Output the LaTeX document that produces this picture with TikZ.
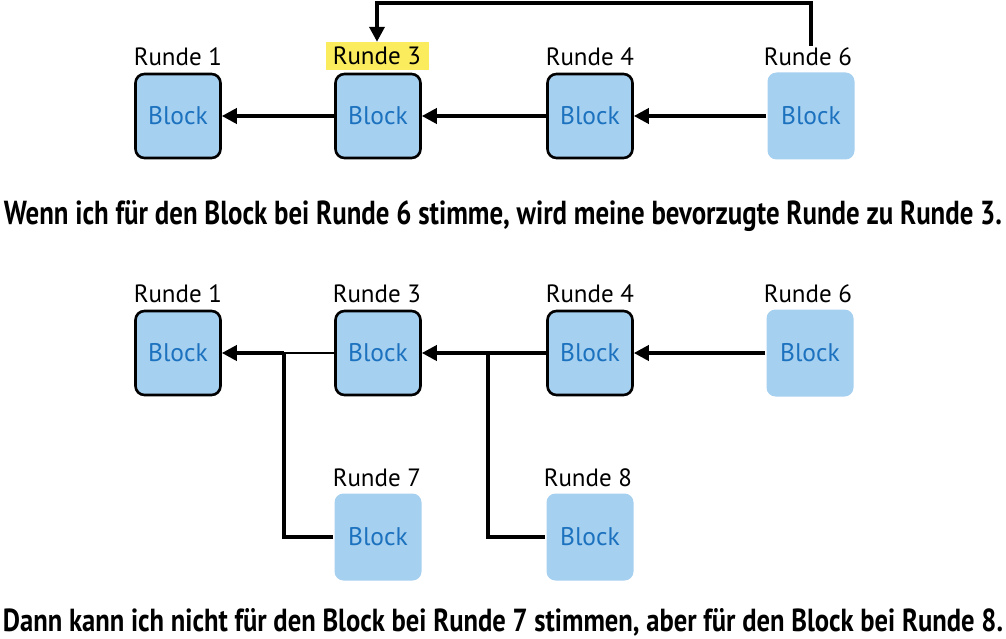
\documentclass[tikz,border=0pt]{standalone}
\usepackage{fontspec}
\setmainfont{PT Sans}
\usetikzlibrary{arrows.meta}

\definecolor{blockfill}{RGB}{166,208,240}
\definecolor{blocktext}{RGB}{28,114,190}
\definecolor{marker}{RGB}{250,236,92}

\tikzset{
  blk/.style={draw=black, line width=2.6pt, fill=blockfill, rounded corners=9pt,
    minimum width=85pt, minimum height=84pt, text=blocktext,
    font=\fontsize{25.5}{25.5}\selectfont},
  pale/.style={blk, draw=none, minimum width=87pt, minimum height=87pt},
  rlabel/.style={font=\fontsize{25}{25}\selectfont, inner sep=2pt},
  conn/.style={line width=3.6pt, line join=miter, -{Triangle[length=15pt,width=15pt]}},
  link/.style={line width=3.6pt, line join=miter},
  thin/.style={line width=2.6pt},
  caption/.style={font=\bfseries, anchor=base, inner sep=0pt},
}

\begin{document}
\begin{tikzpicture}[x=1pt, y=-1pt]
    \useasboundingbox (0,0) rectangle (1006,639);

    % upper row
    \node[blk]  (a1) at (178,116) {Block};
    \node[blk]  (a3) at (378,116) {Block};
    \node[blk]  (a4) at (590,116) {Block};
    \node[pale] (a6) at (811,116) {Block};
    \node[rlabel] (ta1) at (178,57) {Runde 1};
    \node[rlabel, fill=marker, minimum width=103pt, minimum height=28pt] (ta3) at (377,56) {Runde 3};
    \node[rlabel] (ta4) at (590,57) {Runde 4};
    \node[rlabel] (ta6) at (808,57) {Runde 6};

    \draw[conn] (a3) -- (a1);
    \draw[conn] (a4) -- (a3);
    \draw[conn] (a6) -- (a4);
    \draw[conn] (ta6.north -| 811,0) -- (811,3) -| (ta3.north);

    \node[caption] (cap1) at (503,225)
      {\resizebox{998pt}{24pt}{Wenn ich für den Block bei Runde 6 stimme, wird meine bevorzugte Runde zu Runde 3.}};

    % lower row
    \node[blk]  (b1) at (178,353) {Block};
    \node[blk]  (b3) at (378,353) {Block};
    \node[blk]  (b4) at (590,353) {Block};
    \node[pale] (b6) at (810,353) {Block};
    \node[pale] (b7) at (378,537) {Block};
    \node[pale] (b8) at (590,537) {Block};
    \node[rlabel] (tb1) at (178,294) {Runde 1};
    \node[rlabel] (tb3) at (377,294) {Runde 3};
    \node[rlabel] (tb4) at (590,294) {Runde 4};
    \node[rlabel] (tb6) at (808,294) {Runde 6};
    \node[rlabel] (tb7) at (377,478) {Runde 7};
    \node[rlabel] (tb8) at (588,478) {Runde 8};

    \coordinate (j7) at (284,353);
    \coordinate (j8) at (488,353);
    \draw[thin] (b3) -- (j7);
    \draw[conn] (j7) -- (b1);
    \draw[conn] (b4) -- (b3);
    \draw[conn] (b6) -- (b4);
    \draw[link] (b7.west) -| (j7);
    \draw[link] (b8.west) -| (j8);

    \node[caption] (cap2) at (503,631)
      {\resizebox{1000pt}{23pt}{Dann kann ich nicht für den Block bei Runde 7 stimmen, aber für den Block bei Runde 8.}};
\end{tikzpicture}
\end{document}
